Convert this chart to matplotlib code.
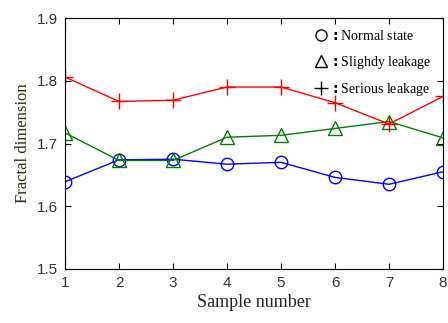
import matplotlib.pyplot as plt
from matplotlib.lines import Line2D

samples = [1, 2, 3, 4, 5, 6, 7, 8]
normal = [1.639, 1.674, 1.675, 1.667, 1.670, 1.646, 1.635, 1.655]
slight = [1.717, 1.673, 1.673, 1.710, 1.713, 1.724, 1.735, 1.709]
serious = [1.806, 1.767, 1.769, 1.790, 1.790, 1.765, 1.731, 1.775]
labels = ['Normal state', 'Slighdy leakage', 'Serious leakage']

serif = 'Liberation Serif'
sans = 'Liberation Sans'

fig = plt.figure(figsize=(4.48, 3.23), dpi=100)
ax = fig.add_axes([65 / 448, 54 / 323, 378 / 448, 251 / 323])

ax.plot(samples, normal, color='blue', lw=1, marker='o', ms=9, mfc='none', mew=1)
ax.plot(samples, slight, color='green', lw=1, marker='^', ms=10, mfc='none', mew=1)
ax.plot(samples, serious, color='red', lw=1, marker='+', ms=11, mew=1)

ax.set_xlim(1, 8)
ax.set_ylim(1.5, 1.9)
ax.set_xticks(samples)
ax.set_yticks([1.5, 1.6, 1.7, 1.8, 1.9])
ax.tick_params(direction='in', top=True, right=True, length=4, labelsize=11, pad=5)
for lab in ax.get_xticklabels() + ax.get_yticklabels():
    lab.set_fontfamily(sans)
    lab.set_color('#333333')

ax.set_xlabel('Sample number', fontfamily=serif, fontsize=13, labelpad=3, color='#222222')
ax.set_ylabel('Fractal dimension', fontfamily=serif, fontsize=12, labelpad=4, color='#3a2a10')

handles = [
    Line2D([], [], ls='none', marker='o', ms=8, mfc='none', mec='black'),
    Line2D([], [], ls='none', marker='^', ms=9, mfc='none', mec='black'),
    Line2D([], [], ls='none', marker='+', ms=10, mec='black'),
]
leg = ax.legend(handles, [r'$\mathbf{:}$' + s for s in labels], loc='upper right',
                bbox_to_anchor=(1.0, 1.0), frameon=False, handlelength=0.8,
                handletextpad=0.3, labelspacing=0.75, borderaxespad=0.4,
                prop={'family': serif, 'size': 10})

fig.savefig('out.png', dpi=100)
